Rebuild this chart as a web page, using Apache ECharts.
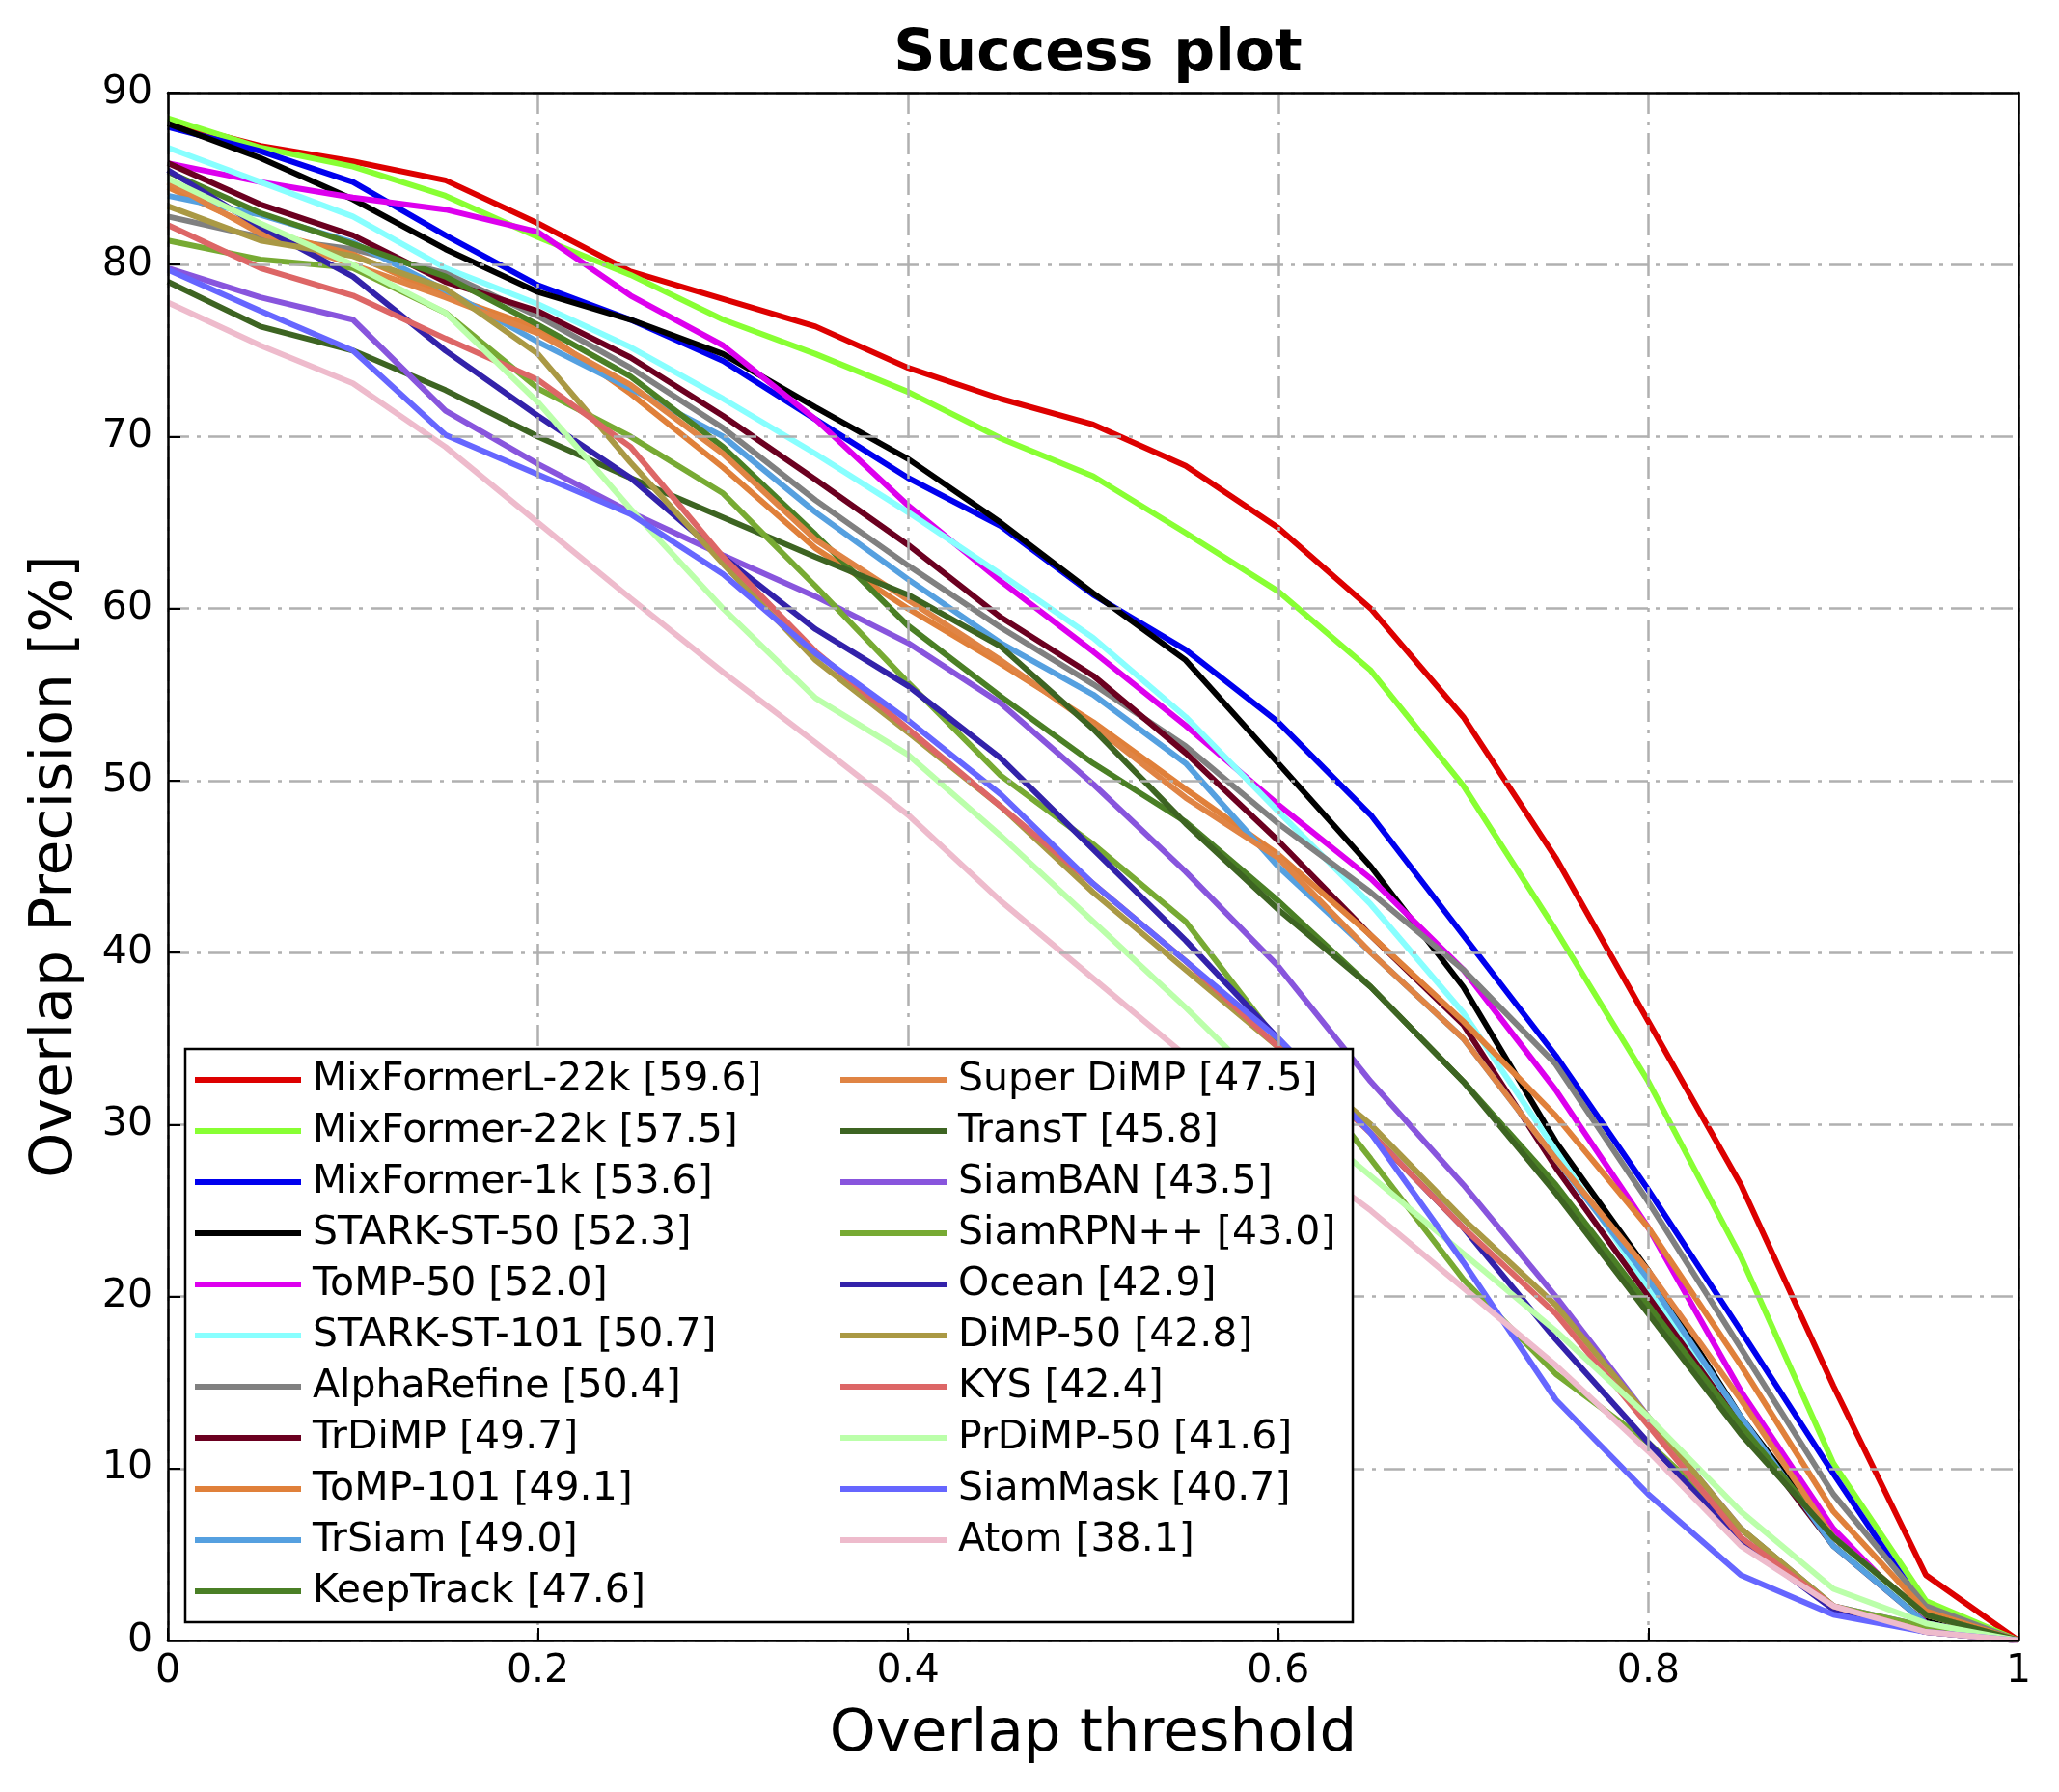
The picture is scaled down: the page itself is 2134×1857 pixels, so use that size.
<!DOCTYPE html>
<html>
<head>
<meta charset="utf-8">
<script src="https://cdn.jsdelivr.net/npm/echarts@6/dist/echarts.min.js"></script>
<style>
html,body{margin:0;padding:0;background:#fff;}
#chart{width:2134px;height:1857px;}
</style>
</head>
<body>
<div id="chart"></div>
<script>
const thresholds = [0,0.05,0.1,0.15,0.2,0.25,0.3,0.35,0.4,0.45,0.5,0.55,0.6,0.65,0.7,0.75,0.8,0.85,0.9,0.95,1];

const mixFormerL22k = [88.3,86.9,86.0,84.9,82.4,79.6,78.0,76.4,74.0,72.2,70.7,68.3,64.7,60.0,53.7,45.5,36.0,26.5,14.8,3.8,0];
const mixFormer22k  = [88.5,86.8,85.7,84.0,81.6,79.4,76.8,74.8,72.6,69.9,67.7,64.4,61.0,56.4,49.7,41.3,32.5,22.3,10.3,2.3,0];
const mixFormer1k   = [88.0,86.6,84.8,81.7,78.8,76.8,74.4,71.0,67.6,64.8,60.8,57.6,53.4,48.0,41.0,34.0,26.2,18.0,9.7,1.7,0];
const starkST50     = [88.2,86.2,83.8,80.9,78.4,76.8,74.8,71.7,68.7,65.0,60.9,57.0,51.0,45.0,38.0,29.0,21.5,13.0,6.0,1.3,0];
const tomp50        = [85.9,84.8,83.9,83.2,81.9,78.2,75.3,71.0,66.0,61.6,57.5,53.2,48.6,44.3,39.0,32.0,24.0,14.5,6.5,1.0,0];
const starkST101    = [86.8,84.8,82.8,79.8,77.7,75.2,72.2,69.0,65.6,62.0,58.3,53.7,48.2,42.8,36.5,28.5,20.5,12.5,5.5,1.5,0];
const alphaRefine   = [82.8,81.6,80.9,79.5,77.0,74.0,70.5,66.3,62.5,58.9,55.6,52.0,47.5,43.5,39.0,33.5,25.5,17.0,8.5,2.0,0];
const trDiMP        = [85.9,83.5,81.7,79.0,77.3,74.6,71.2,67.5,63.7,59.5,56.1,51.6,46.5,41.0,35.8,27.5,20.0,12.5,5.5,1.0,0];
const tomp101       = [84.5,82.0,80.6,78.2,76.3,72.5,68.2,63.5,60.0,56.8,53.4,49.5,45.7,41.0,36.0,30.5,24.0,16.0,7.5,1.7,0];
const trSiam        = [84.0,82.9,81.3,78.5,75.5,72.8,70.0,65.6,61.7,58.0,55.0,51.0,45.0,40.0,35.0,28.0,21.0,13.0,5.5,1.0,0];
const keepTrack     = [85.4,83.0,81.2,79.3,76.5,73.5,69.4,64.3,59.0,54.9,51.0,47.6,43.0,38.0,32.5,26.5,19.5,12.5,6.0,1.5,0];
const superDiMP     = [84.8,81.8,80.0,78.1,76.0,73.0,69.0,64.0,60.5,57.0,53.2,49.0,45.5,40.0,35.0,28.0,21.5,14.0,6.0,1.5,0];
const transT        = [79.0,76.4,75.0,72.7,70.0,67.6,65.3,63.0,60.8,57.8,53.0,47.5,42.5,38.0,32.5,26.0,19.0,12.0,6.0,1.5,0];
const siamBAN       = [79.8,78.1,76.8,71.5,68.4,65.6,63.1,60.7,58.0,54.5,49.8,44.7,39.2,32.5,26.5,20.0,13.0,6.5,2.0,0.8,0];
const siamRPNpp     = [81.4,80.3,79.8,77.2,72.8,70.0,66.7,61.3,55.7,50.3,46.3,41.8,34.8,28.0,21.0,15.5,11.5,6.5,2.0,0.8,0];
const ocean         = [85.5,82.2,79.3,75.0,71.2,67.6,63.0,58.8,55.5,51.3,46.0,40.7,35.0,29.5,24.0,17.5,11.5,5.8,1.8,0.5,0];
const dimp50        = [83.4,81.4,80.5,78.6,74.8,68.5,62.6,57.0,52.8,48.5,43.5,39.0,34.5,30.0,24.5,19.5,13.0,6.5,2.0,0.5,0];
const kys           = [82.3,79.8,78.2,75.7,73.3,69.4,63.0,57.5,53.0,48.5,44.0,39.5,34.5,29.5,24.0,19.0,12.5,6.0,2.0,0.5,0];
const prdimp50      = [85.0,82.4,80.0,77.2,72.0,65.8,60.0,54.8,51.5,46.8,41.8,36.8,31.5,27.0,22.5,18.0,13.0,7.5,3.0,1.0,0];
const siamMask      = [79.7,77.3,75.0,70.1,67.8,65.5,62.0,57.4,53.5,49.2,44.0,39.5,35.0,29.5,22.0,14.0,8.5,3.8,1.5,0.5,0];
const atom          = [77.8,75.3,73.1,69.4,65.0,60.6,56.3,52.2,48.0,43.0,38.5,34.0,29.0,25.0,20.5,16.0,11.0,5.5,2.0,0.5,0];

const xTickLabels = ['0','0.2','0.4','0.6','0.8','1'];

const seriesDefs = [
  ['MixFormerL-22k [59.6]', mixFormerL22k, '#dd0000'],
  ['MixFormer-22k [57.5]',  mixFormer22k,  '#88ff33'],
  ['MixFormer-1k [53.6]',   mixFormer1k,   '#0000ee'],
  ['STARK-ST-50 [52.3]',    starkST50,     '#000000'],
  ['ToMP-50 [52.0]',        tomp50,        '#dd00ee'],
  ['STARK-ST-101 [50.7]',   starkST101,    '#88ffff'],
  ['AlphaRefine [50.4]',    alphaRefine,   '#808080'],
  ['TrDiMP [49.7]',         trDiMP,        '#6b0020'],
  ['ToMP-101 [49.1]',       tomp101,       '#e0803a'],
  ['TrSiam [49.0]',         trSiam,        '#55a0e0'],
  ['KeepTrack [47.6]',      keepTrack,     '#4a7f25'],
  ['Super DiMP [47.5]',     superDiMP,     '#e08444'],
  ['TransT [45.8]',         transT,        '#3d6422'],
  ['SiamBAN [43.5]',        siamBAN,       '#8855dd'],
  ['SiamRPN++ [43.0]',      siamRPNpp,     '#77aa33'],
  ['Ocean [42.9]',          ocean,         '#3322aa'],
  ['DiMP-50 [42.8]',        dimp50,        '#aa9944'],
  ['KYS [42.4]',            kys,           '#dd6666'],
  ['PrDiMP-50 [41.6]',      prdimp50,      '#bbffaa'],
  ['SiamMask [40.7]',       siamMask,      '#6666ff'],
  ['Atom [38.1]',           atom,          '#eebbcc']
];

const FONT = 'DejaVu Sans';
const series = seriesDefs.map(([name, vals, color]) => ({
  name: name,
  type: 'line',
  xAxisIndex: 0,
  yAxisIndex: 0,
  data: thresholds.map((t, i) => [t, vals[i]]),
  showSymbol: false,
  symbol: 'none',
  lineStyle: {width: 6, color: color},
  itemStyle: {color: color},
  animation: false,
  z: 2
}));

const legendText = {fontFamily: FONT, fontSize: 41, color: '#000', lineHeight: 44, padding: [0,0,0,7]};
const gridLine = {show: true, lineStyle: {color: '#b0b0b0', width: 2.5, type: [22, 8, 4, 8]}};
const tickStyle = {show: true, inside: true, length: 13, lineStyle: {color: '#000', width: 2}};
const frameLine = {show: true, onZero: false, lineStyle: {color: '#000', width: 2.5}};

const option = {
  backgroundColor: '#ffffff',
  animation: false,
  title: {
    text: 'Success plot',
    left: 1133,
    textAlign: 'center',
    top: 22,
    textStyle: {fontFamily: FONT, fontSize: 60, fontWeight: 'bold', color: '#000'}
  },
  grid: {
    left: 174, right: 42, top: 96, bottom: 157,
    show: false
  },
  xAxis: [{
    type: 'value', min: 0, max: 1, interval: 0.2, position: 'bottom',
    name: 'Overlap threshold', nameLocation: 'middle', nameGap: 68,
    nameTextStyle: {fontFamily: FONT, fontSize: 61, color: '#000'},
    axisLine: frameLine,
    axisTick: tickStyle,
    axisLabel: {fontFamily: FONT, fontSize: 41, color: '#000', margin: 12,
      formatter: (v) => xTickLabels[Math.round(v * 5)]},
    splitLine: gridLine,
    z: 5
  }, {
    type: 'value', min: 0, max: 1, interval: 0.2, position: 'top',
    axisLine: frameLine, axisTick: {show: false}, axisLabel: {show: false}, splitLine: {show: false},
    z: 5
  }],
  yAxis: [{
    type: 'value', min: 0, max: 90, interval: 10, position: 'left',
    name: 'Overlap Precision [%]', nameLocation: 'middle', nameGap: 86,
    nameTextStyle: {fontFamily: FONT, fontSize: 60, color: '#000'},
    axisLine: frameLine,
    axisTick: tickStyle,
    axisLabel: {fontFamily: FONT, fontSize: 41, color: '#000', margin: 16},
    splitLine: gridLine,
    z: 5
  }, {
    type: 'value', min: 0, max: 90, interval: 10, position: 'right',
    axisLine: frameLine, axisTick: {show: false}, axisLabel: {show: false}, splitLine: {show: false},
    z: 5
  }],
  graphic: [{
    type: 'rect', z: 10,
    shape: {x: 192, y: 1087, width: 1210, height: 594},
    style: {fill: '#ffffff', stroke: '#000', lineWidth: 2.5}
  }],
  legend: [
    {
      z: 20, orient: 'vertical', left: 202, top: 1097, padding: 0,
      itemWidth: 110, itemHeight: 6, itemGap: 9, icon: 'rect',
      data: seriesDefs.slice(0, 11).map(d => d[0]),
      textStyle: legendText
    },
    {
      z: 20, orient: 'vertical', left: 871, top: 1097, padding: 0,
      itemWidth: 110, itemHeight: 6, itemGap: 9, icon: 'rect',
      data: seriesDefs.slice(11).map(d => d[0]),
      textStyle: legendText
    }
  ],
  series: series
};

const chart = echarts.init(document.getElementById('chart'), null, {renderer: 'canvas'});
chart.setOption(option);
</script>
</body>
</html>
